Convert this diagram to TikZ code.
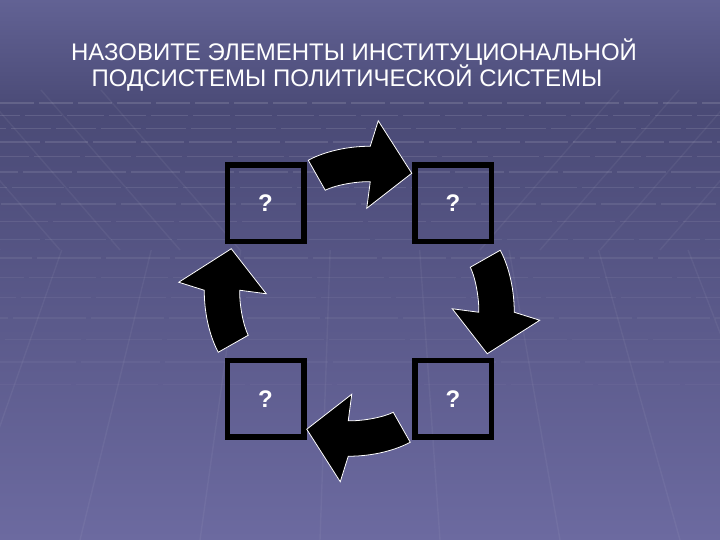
\documentclass[tikz,border=0pt]{standalone}
\usepackage{fontspec}
\setmainfont{Liberation Sans}
\usetikzlibrary{calc}
\definecolor{bglight}{RGB}{98,98,148}
\definecolor{bgdark}{RGB}{74,74,118}
\definecolor{bgbottom}{RGB}{108,106,160}
\tikzset{
  qbox/.style={draw=black, line width=5.5pt, minimum size=76.5pt, inner sep=0pt,
    text=white, font=\fontsize{24}{24}\selectfont\bfseries},
  headline/.style={text=white, inner sep=0pt, font=\fontsize{24}{28}\selectfont},
  stripe/.style={white, line width=1.6pt},
  wall/.style={white, line width=1.4pt, opacity=0.05},
  turnarrow/.pic={
    \filldraw[fill=black, draw=white, line width=0.8pt, line join=miter]
      (-51,141) .. controls (-38,148) and (-16,155) .. (11,155)
      -- (19,180.5) -- (52.5,128) -- (7.5,93) -- (11,119.5)
      .. controls (0,120) and (-22,117) .. (-34,111) -- cycle;
  }
}
\begin{document}
\begin{tikzpicture}[x=1pt,y=1pt]
  \useasboundingbox (0,0) rectangle (720,540);
  \shade[top color=bglight, bottom color=bgdark] (0,430) rectangle (720,540);
  \shade[top color=bgdark, bottom color=bgbottom] (0,0) rectangle (720,430.5);
  \foreach \k in {0,...,16}{
    \pgfmathsetmacro{\yy}{437-12*\k-0.35*\k*\k}
    \pgfmathsetmacro{\op}{0.13-0.006*\k}
    \pgfmathsetmacro{\seg}{34+3*\k}
    \pgfmathsetmacro{\ph}{17*\k}
    \draw[stripe, opacity=\op, dash pattern=on \seg pt off 5pt, dash phase=\ph pt]
      (0,\yy) -- (720,\yy);
  }
  \foreach \x in {-300,-160,-40,80,200,320,440,560,680,800,940}
    \draw[wall] ($(360,1140)!0.7456!(\x,0)$) -- (\x,0);
  \foreach \x in {480,540,600,660,720}
    \draw[wall] (\x,290) -- ++(139,160);
  \foreach \x in {0,60,120,180,240}
    \draw[wall] (\x,290) -- ++(-139,160);

  \draw
    (354,488) node[headline] (head1){НАЗОВИТЕ ЭЛЕМЕНТЫ ИНСТИТУЦИОНАЛЬНОЙ}
    (347,461.5) node[headline] (head2){ПОДСИСТЕМЫ ПОЛИТИЧЕСКОЙ СИСТЕМЫ};
  \draw
    (265.5,336.5) node[qbox] (1){?}
    (453,336.5) node[qbox] (2){?}
    (453,141) node[qbox] (3){?}
    (265.5,141) node[qbox] (4){?};
  \coordinate (c) at ($(1)!0.5!(3)$);
  \path
    (c) pic[rotate=0]{turnarrow}
    (c) pic[rotate=-90]{turnarrow}
    (c) pic[rotate=-180]{turnarrow}
    (c) pic[rotate=-270]{turnarrow};
\end{tikzpicture}
\end{document}
